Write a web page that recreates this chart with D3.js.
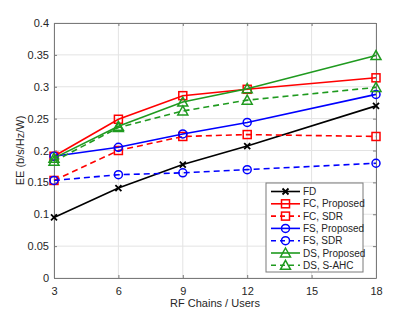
<!DOCTYPE html>
<html>
<head>
<meta charset="utf-8">
<script src="https://cdn.jsdelivr.net/npm/d3@7"></script>
<style>
  body { margin: 0; background: white; }
  svg { font-family: "Liberation Sans", Arial, sans-serif; }
</style>
</head>
<body>
<svg id="chart" width="415" height="312"></svg>
<script>
// data
var users = [3, 6, 9, 12, 18];
var xTicks = [3, 6, 9, 12, 15, 18];
var yTicks = [0, 0.05, 0.1, 0.15, 0.2, 0.25, 0.3, 0.35, 0.4];
var yTickLabels = ["0", "0.05", "0.1", "0.15", "0.2", "0.25", "0.3", "0.35", "0.4"];

var fd = [0.095, 0.141, 0.178, 0.207, 0.270];
var fcProposed = [0.191, 0.249, 0.286, 0.296, 0.314];
var fcSdr = [0.153, 0.200, 0.222, 0.225, 0.222];
var fsProposed = [0.191, 0.205, 0.226, 0.244, 0.288];
var fsSdr = [0.153, 0.162, 0.165, 0.170, 0.180];
var dsProposed = [0.188, 0.238, 0.276, 0.297, 0.349];
var dsSahc = [0.183, 0.236, 0.262, 0.279, 0.299];

var series = [
  { name: "FD", values: fd, color: "#000000", dash: null, marker: "x" },
  { name: "FC, Proposed", values: fcProposed, color: "#ff0000", dash: null, marker: "square" },
  { name: "FC, SDR", values: fcSdr, color: "#ff0000", dash: "6,4", marker: "square" },
  { name: "FS, Proposed", values: fsProposed, color: "#0000ff", dash: null, marker: "circle" },
  { name: "FS, SDR", values: fsSdr, color: "#0000ff", dash: "6,4", marker: "circle" },
  { name: "DS, Proposed", values: dsProposed, color: "#1f9a1f", dash: null, marker: "triangle" },
  { name: "DS, S-AHC", values: dsSahc, color: "#1f9a1f", dash: "6,4", marker: "triangle" }
];

var translate = function(x, y) { return "translate(" + x + "," + y + ")"; };

var margin = { top: 23, right: 39, bottom: 34, left: 54 };
var svg = d3.select("#chart");
var width = 415 - margin.left - margin.right;
var height = 312 - margin.top - margin.bottom;

var x = d3.scaleLinear().domain([3, 18]).range([0, width]);
var y = d3.scaleLinear().domain([0, 0.4]).range([height, 0]);

var plot = svg.append("g").attr("transform", translate(margin.left, margin.top));

plot.append("rect")
  .attr("width", width).attr("height", height)
  .style("fill", "white");

// grid
plot.selectAll(".vgrid").data(xTicks).enter().append("line")
  .attr("x1", function(d) { return x(d); }).attr("x2", function(d) { return x(d); })
  .attr("y1", 0).attr("y2", height)
  .attr("stroke", "#e3e3e3").attr("stroke-width", 1);
plot.selectAll(".hgrid").data(yTicks).enter().append("line")
  .attr("y1", function(d) { return y(d); }).attr("y2", function(d) { return y(d); })
  .attr("x1", 0).attr("x2", width)
  .attr("stroke", "#e3e3e3").attr("stroke-width", 1);

// axes (ticks inside, matlab style)
var xAxis = d3.axisBottom(x).tickValues(xTicks).tickSize(-3).tickSizeOuter(0).tickPadding(9);
var yAxis = d3.axisLeft(y).tickValues(yTicks).tickSize(-3).tickSizeOuter(0).tickPadding(5)
  .tickFormat(function(d, i) { return yTickLabels[i]; });
var xAxisTop = d3.axisTop(x).tickValues(xTicks).tickSize(-3).tickSizeOuter(0).tickFormat("");
var yAxisRight = d3.axisRight(y).tickValues(yTicks).tickSize(-3).tickSizeOuter(0).tickFormat("");

var gx = plot.append("g").attr("transform", translate(0, height)).call(xAxis);
var gy = plot.append("g").call(yAxis);
var gxt = plot.append("g").call(xAxisTop);
var gyr = plot.append("g").attr("transform", translate(width, 0)).call(yAxisRight);

[gx, gy, gxt, gyr].forEach(function(g) {
  g.selectAll("path, line").attr("stroke", "#7a7a7a");
  g.selectAll("text").attr("fill", "#262626").style("font-size", "11px");
});

// lines
var line = d3.line()
  .x(function(d, i) { return x(users[i]); })
  .y(function(d) { return y(d); });

function drawMarker(g, type, color) {
  if (type === "square") {
    g.append("rect").attr("x", -4).attr("y", -4).attr("width", 8).attr("height", 8)
      .attr("fill", "none").attr("stroke", color).attr("stroke-width", 1.5);
  } else if (type === "circle") {
    g.append("circle").attr("r", 4)
      .attr("fill", "none").attr("stroke", color).attr("stroke-width", 1.5);
  } else if (type === "triangle") {
    g.append("path").attr("d", "M0,-5L5,4L-5,4Z")
      .attr("fill", "none").attr("stroke", color).attr("stroke-width", 1.5);
  } else {
    g.append("path").attr("d", "M-3,-3L3,3M-3,3L3,-3")
      .attr("fill", "none").attr("stroke", color).attr("stroke-width", 1.8);
  }
}

series.forEach(function(s) {
  plot.append("path")
    .datum(s.values)
    .attr("d", line)
    .attr("fill", "none")
    .attr("stroke", s.color)
    .attr("stroke-width", 1.6)
    .attr("stroke-dasharray", s.dash);

  plot.selectAll(null)
    .data(s.values)
    .enter().append("g")
    .attr("transform", function(d, i) { return translate(x(users[i]), y(d)); })
    .each(function() { drawMarker(d3.select(this), s.marker, s.color); });
});

// legend
var legend = svg.append("g").attr("transform", translate(266, 183));
legend.append("rect")
  .attr("width", 97).attr("height", 89)
  .attr("fill", "white").attr("stroke", "#7a7a7a").attr("stroke-width", 1);

var rows = legend.selectAll(".row")
  .data(series)
  .enter().append("g")
  .attr("transform", function(d, i) { return translate(0, 8.5 + i * 12.3); });

rows.append("line")
  .attr("x1", 5).attr("x2", 34)
  .attr("stroke", function(d) { return d.color; })
  .attr("stroke-width", 1.6)
  .attr("stroke-dasharray", function(d) { return d.dash ? "5,4" : null; });

rows.append("g")
  .attr("transform", translate(19.5, 0))
  .each(function(d) { drawMarker(d3.select(this), d.marker, d.color); });

rows.append("text")
  .attr("x", 37).attr("dy", "0.35em")
  .attr("fill", "#262626")
  .style("font-size", "10px")
  .text(function(d) { return d.name; });

// axis titles
svg.append("text")
  .attr("x", margin.left + width / 2)
  .attr("y", 307)
  .attr("text-anchor", "middle")
  .attr("fill", "#262626")
  .style("font-size", "11px")
  .text("RF Chains / Users");

svg.append("text")
  .attr("transform", translate(24, margin.top + height / 2) + " rotate(-90)")
  .attr("text-anchor", "middle")
  .attr("fill", "#262626")
  .style("font-size", "11px")
  .text("EE (b/s/Hz/W)");
</script>
</body>
</html>
